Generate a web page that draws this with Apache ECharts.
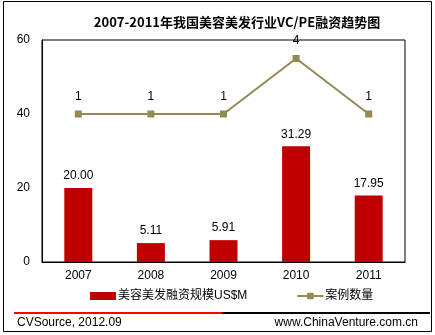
<!DOCTYPE html>
<html><head><meta charset="utf-8">
<script src="https://cdn.jsdelivr.net/npm/echarts@6/dist/echarts.min.js"></script>
<style>html,body{margin:0;padding:0;background:#fff}#c{width:435px;height:335px}</style>
</head><body><div id="c"></div>
<script>
var categories = ['2007','2008','2009','2010','2011'];
var amountValues = [20.00, 5.11, 5.91, 31.29, 17.95];
var caseCounts = [1, 1, 1, 4, 1];
var yTicks = [0, 20, 40, 60];
var amountName = '美容美发融资规模US$M';
var caseName = '案例数量';
var titleText = '2007-2011年我国美容美发行业VC/PE融资趋势图';
var sourceText = 'CVSource, 2012.09';
var siteText = 'www.ChinaVenture.com.cn';

var font = '"Liberation Sans", Arial, "Noto Sans CJK SC", sans-serif';
var chart = echarts.init(document.getElementById('c'), null, {renderer:'canvas'});
chart.setOption({
  animation:false,
  backgroundColor:'#fff',
  textStyle:{fontFamily:font},
  title:{text:titleText,left:232,textAlign:'center',top:11,
    textStyle:{fontFamily:'"Noto Sans CJK SC", sans-serif',fontWeight:'bold',fontSize:13,color:'#000'}},
  grid:{left:42,right:30,top:40,bottom:73,show:true,borderColor:'#000',borderWidth:1,backgroundColor:'#fff'},
  legend:{bottom:28,left:85,itemGap:49,itemWidth:26,itemHeight:8,
    textStyle:{fontSize:12,color:'#000',fontFamily:font,padding:[0,0,0,-3]},
    data:[{name:amountName,icon:'rect'},{name:caseName}]},
  xAxis:{type:'category',data:categories,axisTick:{show:false},
    axisLine:{lineStyle:{color:'#000'}},
    axisLabel:{color:'#000',fontSize:12,margin:8}},
  yAxis:[
    {type:'value',min:yTicks[0],max:yTicks[yTicks.length-1],interval:20,splitLine:{show:false},
     axisLine:{show:true,lineStyle:{color:'#000'}},axisTick:{show:false},
     axisLabel:{color:'#000',fontSize:12,margin:12}},
    {type:'value',min:-7,max:5,show:false,splitLine:{show:false}}
  ],
  series:[
    {name:amountName,type:'bar',data:amountValues,barWidth:28,
     itemStyle:{color:'#c00000'},
     label:{show:true,position:'top',distance:6,color:'#000',fontSize:12,
       formatter:function(p){return p.value.toFixed(2);}}},
    {name:caseName,type:'line',yAxisIndex:1,data:caseCounts,symbol:'rect',symbolSize:7,
     itemStyle:{color:'#938953'},lineStyle:{color:'#938953',width:2},
     label:{show:true,position:'top',distance:8,color:'#000',fontSize:12}}
  ],
  graphic:[
    {type:'rect',shape:{x:3.5,y:1.5,width:428,height:330},style:{fill:null,stroke:'#000',lineWidth:1},z:-1},
    {type:'line',shape:{x1:14,y1:313,x2:222,y2:313},style:{stroke:'#ff0000',lineWidth:2}},
    {type:'line',shape:{x1:222,y1:313,x2:430,y2:313},style:{stroke:'#000',lineWidth:2}},
    {type:'text',left:17,top:317,style:{text:sourceText,font:'12px '+font,fill:'#000'}},
    {type:'text',right:17,top:317,style:{text:siteText,font:'12px '+font,fill:'#000'}}
  ]
});
</script></body></html>
